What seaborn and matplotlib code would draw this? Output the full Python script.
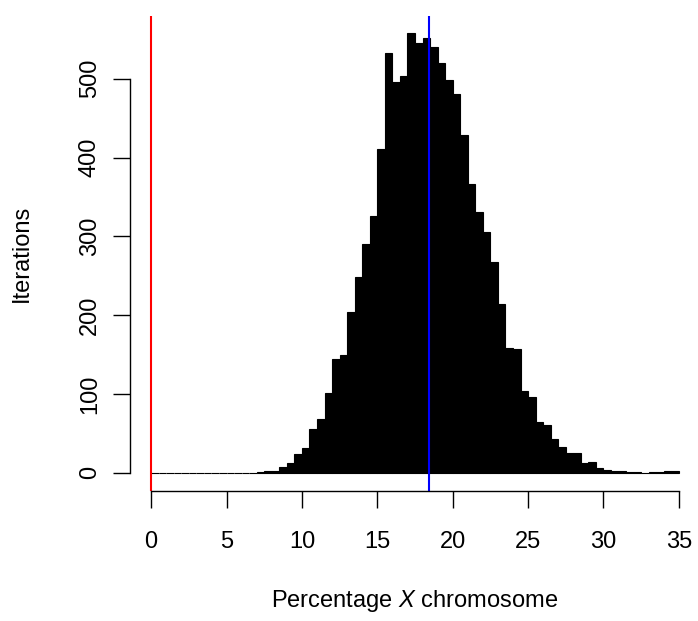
import numpy as np
import pandas as pd
import seaborn as sns
import matplotlib
matplotlib.use('Agg')
import matplotlib.pyplot as plt

# histogram bins, width 0.5 from 0 to 35
bin_left = np.arange(0, 35, 0.5)
counts = [0, 0, 0, 0, 0, 0, 0, 0, 0, 0, 0, 0, 0, 0,
          1, 2, 3, 7, 12, 24, 31, 56, 69, 101,
          145, 149, 204, 249, 291, 326, 411, 533, 496, 503,
          558, 545, 552, 540, 520, 498, 481, 429, 366, 331,
          306, 268, 214, 158, 157, 104, 96, 65, 61, 43,
          33, 25, 25, 12, 14, 6, 4, 3, 2, 1,
          1, 0, 1, 1, 2, 2]
null_value = 0
observed_mean = 18.45
x_ticks = [0, 5, 10, 15, 20, 25, 30, 35]
y_ticks = [0, 100, 200, 300, 400, 500]

df = pd.DataFrame({'mid': bin_left + 0.25, 'n': counts})

sns.set_style('white')
plt.rcParams['font.family'] = ['Liberation Sans', 'DejaVu Sans']
plt.rcParams['mathtext.fontset'] = 'custom'
plt.rcParams['mathtext.rm'] = 'Liberation Sans'
plt.rcParams['mathtext.it'] = 'Liberation Sans:italic'

fig = plt.figure(figsize=(6.98, 6.21), dpi=100)
ax = fig.add_axes([130/698, 1-490.5/621, 570/698, 475/621])

sns.histplot(data=df, x='mid', weights='n', binwidth=0.5, binrange=(0, 35),
             ax=ax, color='black', alpha=1, edgecolor='black', linewidth=0.8)

ax.axvline(null_value, color='red', lw=1.5)
ax.axvline(observed_mean, color='blue', lw=1.5)

ax.set_xlim(-1.4, 36.4)
ax.set_ylim(-22.3, 580.3)
ax.set_xticks(x_ticks)
ax.set_yticks(y_ticks)
ax.set_yticklabels([str(v) for v in y_ticks], rotation=90, va='center')

for s in ['top', 'right']:
    ax.spines[s].set_visible(False)
ax.spines['bottom'].set_bounds(0, 35)
ax.spines['left'].set_bounds(0, 500)
for s in ['bottom', 'left']:
    ax.spines[s].set_color('black')
    ax.spines[s].set_linewidth(1)

ax.tick_params(axis='both', which='major', direction='out', length=12,
               width=1, color='black', labelsize=17, labelcolor='black',
               bottom=True, left=True)
ax.tick_params(axis='x', pad=17)
ax.tick_params(axis='y', pad=9)

ax.set_xlabel('Percentage $\\mathit{X}$ chromosome', fontsize=17,
              labelpad=25, color='black')
ax.set_ylabel('Iterations', fontsize=17, labelpad=33, color='black')

fig.savefig('out.png', dpi=100)
